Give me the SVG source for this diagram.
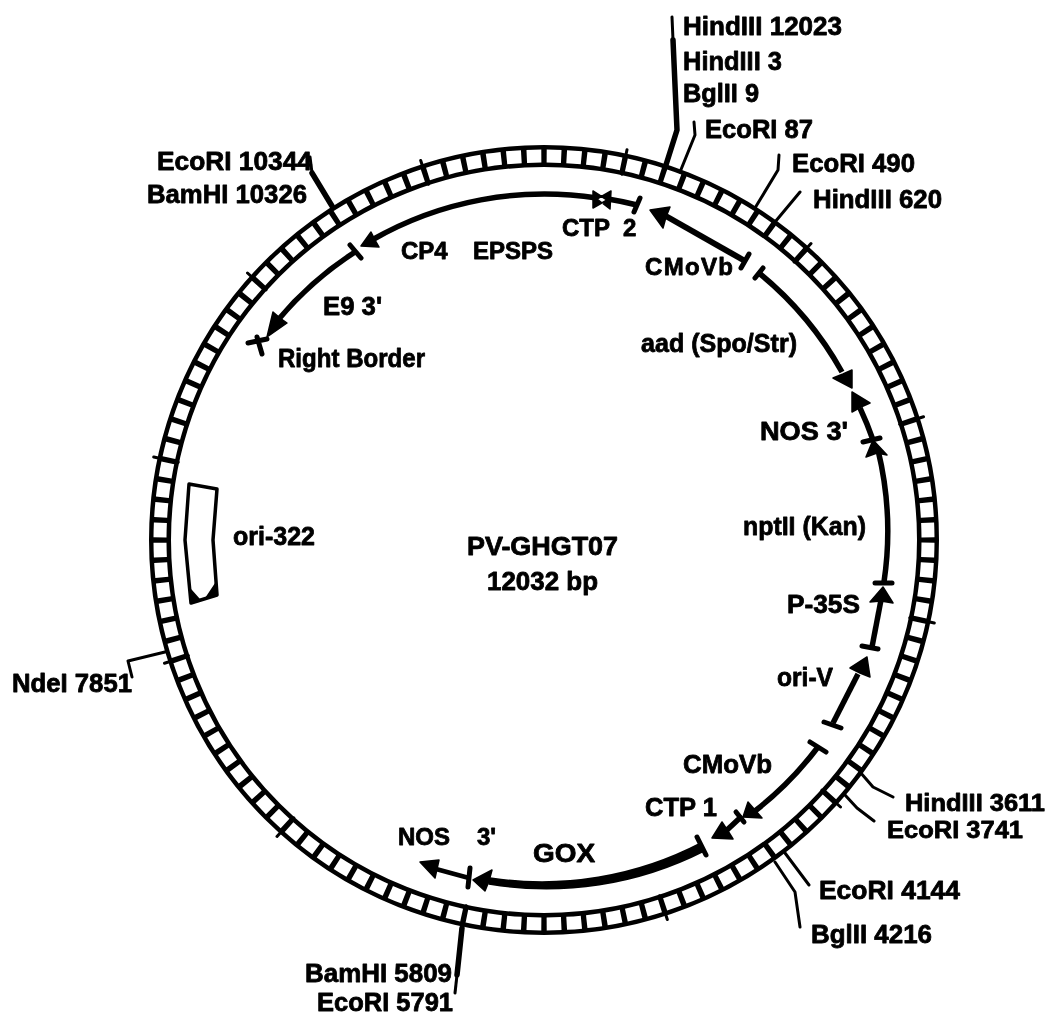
<svg xmlns="http://www.w3.org/2000/svg" width="1053" height="1020" viewBox="0 0 1053 1020">
<defs><filter id="scan" x="0" y="0" width="100%" height="100%" filterUnits="userSpaceOnUse" primitiveUnits="userSpaceOnUse"><feGaussianBlur stdDeviation="0.6"/></filter></defs>
<style>
text{font-family:"Liberation Sans",Arial,sans-serif;font-weight:700;font-size:26px;fill:#000;stroke:#000;stroke-width:.8px;stroke-linejoin:round;white-space:pre}
.l{fill:none;stroke:#000;stroke-width:3;stroke-linecap:round;stroke-linejoin:round}
.t{stroke-width:5.5}
.g{fill:none;stroke:#000;stroke-width:5.5;stroke-linecap:butt;stroke-linejoin:round}
.b{fill:none;stroke:#000;stroke-width:5;stroke-linecap:round}
.h{fill:#000;stroke:#000;stroke-width:1.5;stroke-linejoin:round}
</style>
<rect width="1053" height="1020" fill="#fff"/>
<g filter="url(#scan)">
<g id="plasmid-ring">
<circle cx="544" cy="540" r="384" fill="none" stroke="#000" stroke-width="22"/>
<circle cx="544" cy="540" r="384" fill="none" stroke="#fff" stroke-width="13" pathLength="120" stroke-dasharray="0.73 0.27" stroke-dashoffset="-0.135"/>
<path class="l" d="M621.8 174.2L627 149.7M794.2 262.1L811 243.5M899.7 424.4L923.5 416.7M909.8 617.8L934.3 623M821.9 790.2L840.5 807M659.6 895.7L667.3 919.5M466.2 905.8L461 930.3M293.8 817.9L277 836.5M188.3 655.6L164.5 663.3M178.2 462.2L153.7 457M266.1 289.8L247.5 273M428.4 184.3L420.7 160.5"/>
</g>
<g id="connectors">
<path class="l t" d="M673 40L677 130L665 168"/>
<path class="l" d="M672 17L673 40"/>
<path class="l" d="M694 122L695 135L680 172M779 155L778 170L755 208M800 192L775 222M860 772L873 787L893 797M845 795L857 808L874 821M785 853L809 885M775 862L795 892L800 927M165 652L128 661L132 677"/>
<path class="l" d="M310 157L312 173"/>
<path class="l t" d="M312 173L332 206M462 928L457 975"/>
<path class="l" d="M457 975L455 993"/>
</g>
<g id="label-hindiii-12023"><text x="683" y="35" textLength="159" lengthAdjust="spacingAndGlyphs">HindIII 12023</text></g>
<g id="label-hindiii-3"><text x="683" y="70" textLength="99" lengthAdjust="spacingAndGlyphs">HindIII 3</text></g>
<g id="label-bglii-9"><text x="683" y="102" textLength="76" lengthAdjust="spacingAndGlyphs">BglII 9</text></g>
<g id="label-ecori-87"><text x="705" y="138" textLength="108" lengthAdjust="spacingAndGlyphs">EcoRI 87</text></g>
<g id="label-ecori-490"><text x="792" y="172" textLength="123" lengthAdjust="spacingAndGlyphs">EcoRI 490</text></g>
<g id="label-hindiii-620"><text x="813" y="208" textLength="129" lengthAdjust="spacingAndGlyphs">HindIII 620</text></g>
<g id="label-ecori-10344"><text x="157" y="170" textLength="155" lengthAdjust="spacingAndGlyphs">EcoRI 10344</text></g>
<g id="label-bamhi-10326"><text x="147" y="203" textLength="160" lengthAdjust="spacingAndGlyphs">BamHI 10326</text></g>
<g id="label-hindiii-3611"><text x="905" y="811" style="font-size:24px" textLength="140" lengthAdjust="spacingAndGlyphs">HindIII 3611</text></g>
<g id="label-ecori-3741"><text x="887" y="838" style="font-size:24px" textLength="136" lengthAdjust="spacingAndGlyphs">EcoRI 3741</text></g>
<g id="label-ecori-4144"><text x="819" y="899" textLength="141" lengthAdjust="spacingAndGlyphs">EcoRI 4144</text></g>
<g id="label-bglii-4216"><text x="811" y="943" textLength="121" lengthAdjust="spacingAndGlyphs">BglII 4216</text></g>
<g id="label-bamhi-5809"><text x="305" y="982" textLength="147" lengthAdjust="spacingAndGlyphs">BamHI 5809</text></g>
<g id="label-ecori-5791"><text x="317" y="1011" textLength="136" lengthAdjust="spacingAndGlyphs">EcoRI 5791</text></g>
<g id="label-ndei-7851"><text x="12" y="692" textLength="120" lengthAdjust="spacingAndGlyphs">NdeI 7851</text></g>
<g id="center-title"><text x="467" y="555" textLength="151" lengthAdjust="spacingAndGlyphs">PV-GHGT07</text><text x="487" y="590" textLength="111" lengthAdjust="spacingAndGlyphs">12032 bp</text></g>
<g id="ori-322">
<path class="l" d="M189 484L217 489L213 540L217 595L191 603L185 540Z" style="stroke-width:3.5"/>
<path class="h" d="M191 590L199 599L191 602ZM216 583L206 598L216 596Z"/>
<text x="233" y="545" textLength="82" lengthAdjust="spacingAndGlyphs">ori-322</text>
</g>
<g id="gene-ctp2">
<path class="g" d="M637 205A346 346 0 0 0 608 199"/>
<path class="b" d="M640 198L634 212"/>
<path class="h" d="M593 191L607 200L593 208ZM611 191L597 199L610 209Z"/>
<text x="562" y="236" style="font-size:24px">CTP  2</text>
</g>
<g id="gene-cp4-epsps">
<path class="g" d="M597 198A346 346 0 0 0 372 240"/>
<path class="h" d="M361 246L371 232L375 240L379 247Z"/>
<text x="401" y="259" style="font-size:24px">CP4<tspan x="473">EPSPS</tspan></text>
</g>
<g id="gene-e9">
<path class="b" d="M350 245L361 258"/>
<path class="g" d="M355 252A344 344 0 0 0 278 320"/>
<path class="h" d="M267 337L273 312L280 318L287 323Z"/>
<text x="323" y="315" textLength="59" lengthAdjust="spacingAndGlyphs">E9 3'</text>
</g>
<g id="right-border">
<path class="b" d="M248 343L267 339M257 337L262 354"/>
<text x="278" y="367" textLength="147" lengthAdjust="spacingAndGlyphs">Right Border</text>
</g>
<g id="gene-cmovb-top">
<path class="g" d="M745 261L664 215" style="stroke-width:6"/>
<path class="b" d="M749 254L741 268"/>
<path class="h" d="M650 210L670 207L666 217L663 228Z"/>
<text x="645" y="275" style="font-size:24px" textLength="88">CMoVb</text>
</g>
<g id="gene-aad">
<path class="b" d="M763 268L755 278"/>
<path class="g" d="M759 273A344 344 0 0 1 842 372"/>
<path class="h" d="M852 388L833 378L843 374L852 370Z"/>
<text x="641" y="352" textLength="156" lengthAdjust="spacingAndGlyphs">aad (Spo/Str)</text>
</g>
<g id="gene-nos3-right">
<path class="g" d="M873 440A344 344 0 0 0 860 408"/>
<path class="b" d="M863 442L880 438"/>
<path class="h" d="M852 392L870 403L861 407L852 412Z"/>
<text x="760" y="440" textLength="88" lengthAdjust="spacingAndGlyphs">NOS 3'</text>
</g>
<g id="gene-nptii">
<path class="g" d="M878 450A344 344 0 0 1 884 582"/>
<path class="h" d="M873 440L887 455L877 453L866 457Z"/>
<text x="743" y="535" textLength="123" lengthAdjust="spacingAndGlyphs">nptII (Kan)</text>
</g>
<g id="gene-p35s">
<path class="b" d="M875 583L892 583"/>
<path class="g" d="M881 600L872 647"/>
<path class="b" d="M862 646L878 649"/>
<path class="h" d="M883 587L893 603L881 601L870 602Z"/>
<text x="787" y="613" textLength="73" lengthAdjust="spacingAndGlyphs">P-35S</text>
</g>
<g id="gene-ori-v">
<path class="g" d="M858 674L833 723"/>
<path class="b" d="M824 722L841 728"/>
<path class="h" d="M867 657L870 677L860 673L850 668Z"/>
<text x="777" y="686" textLength="56" lengthAdjust="spacingAndGlyphs">ori-V</text>
</g>
<g id="gene-cmovb-bottom">
<path class="b" d="M810 742L826 752"/>
<path class="g" d="M818 747A344 344 0 0 1 755 811"/>
<path class="h" d="M743 817L748 802L755 810L762 818Z"/>
<text x="683" y="773" textLength="89" lengthAdjust="spacingAndGlyphs">CMoVb</text>
</g>
<g id="gene-ctp1">
<path class="b" d="M736 812L744 822"/>
<path class="g" d="M742 816L727 830"/>
<path class="h" d="M712 838L722 822L728 831L733 839Z"/>
<text x="645" y="816" textLength="72" lengthAdjust="spacingAndGlyphs">CTP 1</text>
</g>
<g id="gene-gox">
<path class="b" d="M697 837L706 855"/>
<path d="M701 843A344 344 0 0 1 490 878L489 884A348 348 0 0 0 704 851Z" fill="#000" stroke="#000" stroke-width="1.5" stroke-linejoin="round"/>
<path class="h" d="M473 880L492 870L489 881L485 891Z"/>
<text x="533" y="862" textLength="62" lengthAdjust="spacingAndGlyphs">GOX</text>
</g>
<g id="gene-nos3-bottom">
<path class="b" d="M470 868L468 887"/>
<path class="g" d="M469 878L436 869" style="stroke-width:4.5"/>
<path class="h" d="M420 862L439 860L437 869L435 878Z"/>
<text x="398" y="845" style="font-size:24px">NOS<tspan x="477">3'</tspan></text>
</g>
</g>
</svg>
